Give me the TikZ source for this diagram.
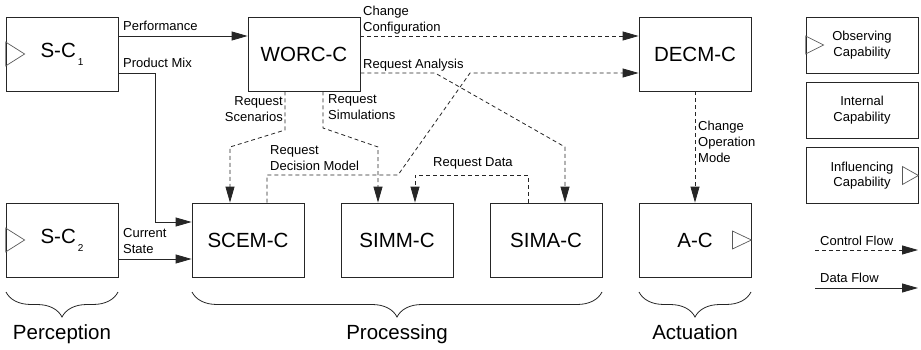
\documentclass[tikz,border=0pt]{standalone}
\usepackage{fontspec}
\setmainfont{Liberation Sans}
\usetikzlibrary{arrows.meta,decorations.pathreplacing,calc}
\newcommand{\twoleft}[2]{\vtop{\halign{##\hfil\cr #1\cr #2\cr}}}
\newcommand{\tworight}[2]{\vtop{\halign{\hfil##\cr #1\cr #2\cr}}}
\newcommand{\threeleft}[3]{\vtop{\halign{##\hfil\cr #1\cr #2\cr #3\cr}}}
\newcommand{\subidx}[1]{\raisebox{-8pt}{\hspace{2pt}\fontsize{10}{10}\selectfont #1}}
\begin{document}
\begin{tikzpicture}[x=1pt,y=-1pt,
  capbox/.style={draw=black!85, line width=0.8pt, minimum width=112pt, minimum height=74pt, inner sep=0pt, font=\fontsize{20.5}{24}\selectfont},
  legbox/.style={draw=black!85, line width=0.8pt, minimum width=112pt, minimum height=56pt, inner sep=0pt, font=\fontsize{13}{15.5}\selectfont, align=center},
  lbl/.style={inner sep=0pt, font=\fontsize{13}{16}\selectfont},
  grouplbl/.style={inner sep=0pt, font=\fontsize{20.5}{24}\selectfont, anchor=base},
  dataflow/.style={draw=black!85, line width=0.8pt, -{Triangle[length=16pt,width=9pt]}},
  ctrlflow/.style={dataflow, dash pattern=on 4pt off 3pt},
  tri/.style={draw=black!65, line width=0.7pt},
  bracedeco/.style={draw=black!85, line width=0.8pt, decorate, decoration={brace, amplitude=25pt}}
]
\useasboundingbox (0,0) rectangle (921,350);

% capability boxes
\node[capbox] (sc1) at (62,54) {S-C\subidx{1}};
\node[capbox] (worc) at (304,54) {WORC-C};
\node[capbox] (decm) at (695,54) {DECM-C};
\node[capbox] (sc2) at (62,240) {S-C\subidx{2}};
\node[capbox] (scem) at (248,240) {SCEM-C};
\node[capbox] (simm) at (397,240) {SIMM-C};
\node[capbox] (sima) at (546,240) {SIMA-C};
\node[capbox] (ac) at (695,240) {A-C};

% legend boxes
\node[legbox] (obs) at (862,45) {Observing\\Capability};
\node[legbox] (intl) at (862,110) {Internal\\Capability};
\node[legbox] (infl) at (862,175.5) {Influencing\\Capability};

% triangles
\draw[tri] ($(sc1.west)+(0,-12)$) -- ($(sc1.west)+(19,0)$) -- ($(sc1.west)+(0,12)$) -- cycle;
\draw[tri] ($(sc2.west)+(0,-12)$) -- ($(sc2.west)+(19,0)$) -- ($(sc2.west)+(0,12)$) -- cycle;
\draw[tri] ($(ac.east)+(-19,-9)$) -- (ac.east) -- ($(ac.east)+(-19,9)$) -- cycle;
\draw[tri] ($(obs.west)+(0,-9)$) -- ($(obs.west)+(18,0)$) -- ($(obs.west)+(0,9)$) -- cycle;
\draw[tri] ($(infl.east)+(-16,-9)$) -- (infl.east) -- ($(infl.east)+(-16,9)$) -- cycle;

% data flows
\draw[dataflow] (sc1.east |- 0,36) -- (worc.west |- 0,36);
\draw[dataflow] (sc1.east |- 0,73) -- (155,73) -- (155,222) -- (scem.west |- 0,222);
\draw[dataflow] (sc2.east |- 0,259) -- (scem.west |- 0,259);

% control flows
\draw[ctrlflow] (worc.east |- 0,36) -- (decm.west |- 0,36);
\draw[ctrlflow] (worc.east |- 0,73) -- (435,73) -- (565,147) -- (565,0 |- sima.north);
\draw[ctrlflow] (267,0 |- scem.north) -- (267,175) -- (398,175) -- (470,73) -- (decm.west |- 0,73);
\draw[ctrlflow] (285,0 |- worc.south) -- (285,130) -- (230,147) -- (230,0 |- scem.north);
\draw[ctrlflow] (323,0 |- worc.south) -- (323,128) -- (378,147) -- (378,0 |- simm.north);
\draw[ctrlflow] (528,0 |- sima.north) -- (528,175) -- (415,175) -- (415,0 |- simm.north);
\draw[ctrlflow] (decm.south) -- (ac.north);

% connector labels
\node[lbl, anchor=base west] (lperf) at (123,31) {Performance};
\node[lbl, anchor=base west] (lpmix) at (123,68) {Product Mix};
\node[lbl, anchor=base west] (lchcfg) at (363,16) {\twoleft{Change}{Configuration}};
\node[lbl, anchor=base west] (lreqan) at (363,69) {Request Analysis};
\node[lbl, anchor=base east] (lreqsc) at (283,106) {\tworight{Request}{Scenarios}};
\node[lbl, anchor=base west] (lreqsim) at (328,104) {\twoleft{Request}{Simulations}};
\node[lbl, anchor=base west] (lreqdec) at (270,155) {\twoleft{Request}{Decision Model}};
\node[lbl, anchor=base west] (lreqdat) at (433,167) {Request Data};
\node[lbl, anchor=base west] (lchop) at (698,131) {\threeleft{Change}{Operation}{Mode}};
\node[lbl, anchor=base west] (lcurst) at (123,237) {\twoleft{Current}{State}};

% legend flows
\coordinate (cfa) at (815,250);
\coordinate (cfb) at (918,250);
\coordinate (dfa) at (815,288);
\coordinate (dfb) at (918,288);
\draw[ctrlflow] (cfa) -- (cfb);
\draw[dataflow] (dfa) -- (dfb);
\node[lbl, anchor=base west] (lctrl) at (820,245) {Control Flow};
\node[lbl, anchor=base west] (ldata) at (820,282) {Data Flow};

% braces
\draw[bracedeco] (118,292) -- (6,292);
\draw[bracedeco] (602,292) -- (192,292);
\draw[bracedeco] (751,292) -- (639,292);
\node[grouplbl] (gperc) at (62,339) {Perception};
\node[grouplbl] (gproc) at (397,339) {Processing};
\node[grouplbl] (gact) at (695,339) {Actuation};
\end{tikzpicture}
\end{document}
